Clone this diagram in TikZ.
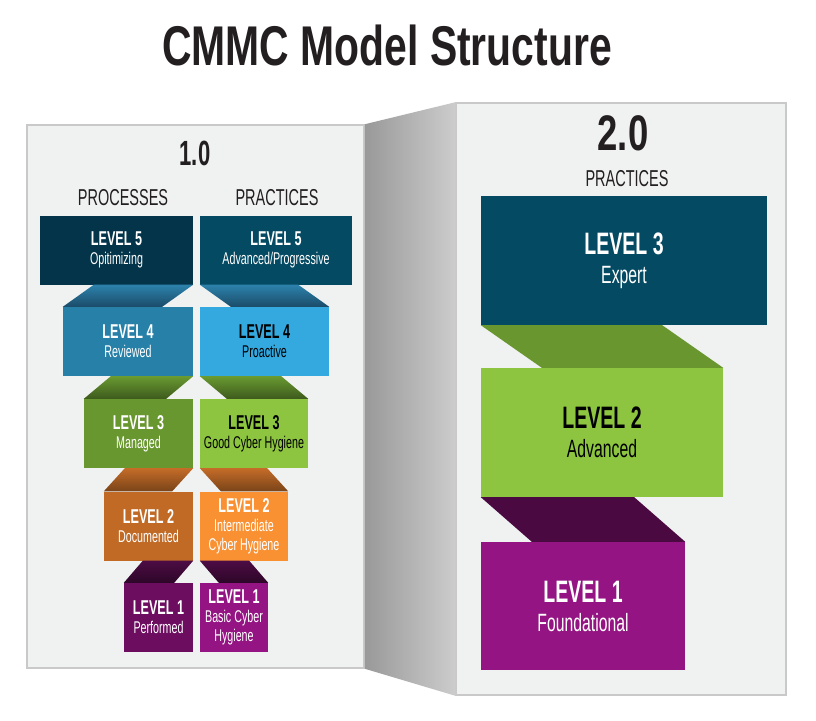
\documentclass[tikz,border=0pt]{standalone}
\usepackage{fontspec}
\setmainfont{Liberation Sans}[FakeStretch=0.63]
\newfontfamily\widefont{Liberation Sans}[FakeStretch=0.73]
\usepackage{tikz}
\usetikzlibrary{calc}

\definecolor{ink}{HTML}{231F20}
\definecolor{panelfill}{HTML}{F0F2F2}
\definecolor{panelline}{HTML}{C9C9C9}
\definecolor{proc5}{HTML}{04344A}
\definecolor{prac5}{HTML}{054A63}
\definecolor{proc4}{HTML}{2680A8}
\definecolor{prac4}{HTML}{33A9DF}
\definecolor{proc3}{HTML}{69972F}
\definecolor{prac3}{HTML}{8DC540}
\definecolor{proc2}{HTML}{C06A26}
\definecolor{prac2}{HTML}{F99133}
\definecolor{proc1}{HTML}{6C0D60}
\definecolor{prac1}{HTML}{931482}
\definecolor{rib4t}{HTML}{2C82AC}
\definecolor{rib4b}{HTML}{1B4C69}
\definecolor{rib3t}{HTML}{6A9A32}
\definecolor{rib3b}{HTML}{3D5A1C}
\definecolor{rib2t}{HTML}{C46C28}
\definecolor{rib2b}{HTML}{7A4419}
\definecolor{rib1t}{HTML}{4C0C44}
\definecolor{rib1b}{HTML}{2D0628}
\definecolor{newgreen}{HTML}{6A9630}
\definecolor{newpurple}{HTML}{4A0940}

\newcommand\lvsmall{\bfseries\fontsize{20}{20}\selectfont}
\newcommand\lvbig{\bfseries\fontsize{31}{31}\selectfont}

\begin{document}
\begin{tikzpicture}[x=1pt,y=-1pt,
    panel/.style={draw=panelline, line width=1.5pt, fill=panelfill, inner sep=0pt},
    head/.style={text=ink, font=\fontsize{23}{25}\selectfont},
    blk/.style={inner sep=0pt, minimum height=69, align=center, text=white,
      font=\fontsize{17}{19}\selectfont},
    bigblk/.style={inner sep=0pt, minimum height=129, align=center, text=white,
      font=\fontsize{25}{29}\selectfont}]
  \fill[white] (0,0) rectangle (816,720);
  \useasboundingbox (0,0) rectangle (816,720);

  \node[font=\widefont\bfseries\fontsize{56}{60}\selectfont, text=ink] (title) at (387,45) {CMMC Model Structure};

  % the two panels and the fold between them
  \node[panel, minimum width=337, minimum height=543] (lp) at (195.5,396.5) {};
  \node[panel, minimum width=330, minimum height=592] (rp) at (621,399) {};
  \shade[left color=black!40, right color=black!20] (lp.north east) -- (rp.north west)
    -- (rp.south west) -- (lp.south east) -- cycle;

  \node[text=ink, font=\bfseries\fontsize{35}{37}\selectfont] (v1) at (195,153) {1.0};
  \node[head] (hproc) at (123,198) {PROCESSES};
  \node[head] (hprac) at (277,198) {PRACTICES};
  \node[text=ink, font=\widefont\bfseries\fontsize{50}{52}\selectfont] (v2) at (623,133) {2.0};
  \node[head] (hnew) at (627,179) {PRACTICES};

  % 1.0 processes
  \node[blk, minimum width=153, fill=proc5] (p5) at (116.5,250) {{\lvsmall LEVEL 5}\\Opitimizing};
  \node[blk, minimum width=130, fill=proc4] (p4) at (128,341.5) {{\lvsmall LEVEL 4}\\Reviewed};
  \node[blk, minimum width=109, fill=proc3] (p3) at (138.5,433.5) {{\lvsmall LEVEL 3}\\Managed};
  \node[blk, minimum width=89, fill=proc2] (p2) at (148.5,526) {{\lvsmall LEVEL 2}\\Documented};
  \node[blk, minimum width=69, fill=proc1] (p1) at (158.5,617.5) {{\lvsmall LEVEL 1}\\Performed};

  % 1.0 practices
  \node[blk, minimum width=152, fill=prac5] (q5) at (276,250) {{\lvsmall LEVEL 5}\\Advanced/Progressive};
  \node[blk, minimum width=129, fill=prac4, text=black] (q4) at (264.5,341.5) {{\lvsmall LEVEL 4}\\Proactive};
  \node[blk, minimum width=108, fill=prac3, text=black] (q3) at (254,433.5) {{\lvsmall LEVEL 3}\\Good Cyber Hygiene};
  \node[blk, minimum width=88, fill=prac2] (q2) at (244,526) {{\lvsmall LEVEL 2}\\Intermediate\\Cyber Hygiene};
  \node[blk, minimum width=68, fill=prac1] (q1) at (234,617.5) {{\lvsmall LEVEL 1}\\Basic Cyber\\Hygiene};

  % 2.0 practices
  \node[bigblk, minimum width=286, fill=prac5] (r3) at (624,260.5) {{\lvbig LEVEL 3}\\Expert};
  \node[bigblk, minimum width=242, fill=prac3, text=black] (r2) at (602,432.5) {{\lvbig LEVEL 2}\\Advanced};
  \node[bigblk, minimum width=204, minimum height=128, fill=prac1] (r1) at (583,606) {{\lvbig LEVEL 1}\\Foundational};

  % folds
  \shade[top color=rib4t, bottom color=rib4b] (p5.south east) -- ($(p4.north west |- p5.south)+(31,0)$) -- (p4.north west) -- ($(p4.north east)-(31,0)$) -- cycle;
  \shade[top color=rib3t, bottom color=rib3b] (p4.south east) -- ($(p3.north west |- p4.south)+(27,0)$) -- (p3.north west) -- ($(p3.north east)-(27,0)$) -- cycle;
  \shade[top color=rib2t, bottom color=rib2b] (p3.south east) -- ($(p2.north west |- p3.south)+(21,0)$) -- (p2.north west) -- ($(p2.north east)-(21,0)$) -- cycle;
  \shade[top color=rib1t, bottom color=rib1b] (p2.south east) -- ($(p1.north west |- p2.south)+(19,0)$) -- (p1.north west) -- ($(p1.north east)-(19,0)$) -- cycle;

  \shade[top color=rib4t, bottom color=rib4b] (q5.south west) -- ($(q4.north east |- q5.south)-(31,0)$) -- (q4.north east) -- ($(q4.north west)+(31,0)$) -- cycle;
  \shade[top color=rib3t, bottom color=rib3b] (q4.south west) -- ($(q3.north east |- q4.south)-(27,0)$) -- (q3.north east) -- ($(q3.north west)+(27,0)$) -- cycle;
  \shade[top color=rib2t, bottom color=rib2b] (q3.south west) -- ($(q2.north east |- q3.south)-(21,0)$) -- (q2.north east) -- ($(q2.north west)+(21,0)$) -- cycle;
  \shade[top color=rib1t, bottom color=rib1b] (q2.south west) -- ($(q1.north east |- q2.south)-(19,0)$) -- (q1.north east) -- ($(q1.north west)+(19,0)$) -- cycle;

  \fill[newgreen] (r3.south west) -- ($(r2.north east |- r3.south)-(61,0)$) -- (r2.north east) -- ($(r2.north west)+(61,0)$) -- cycle;
  \fill[newpurple] (r2.south west) -- ($(r1.north east |- r2.south)-(51,0)$) -- (r1.north east) -- ($(r1.north west)+(51,0)$) -- cycle;
\end{tikzpicture}
\end{document}
